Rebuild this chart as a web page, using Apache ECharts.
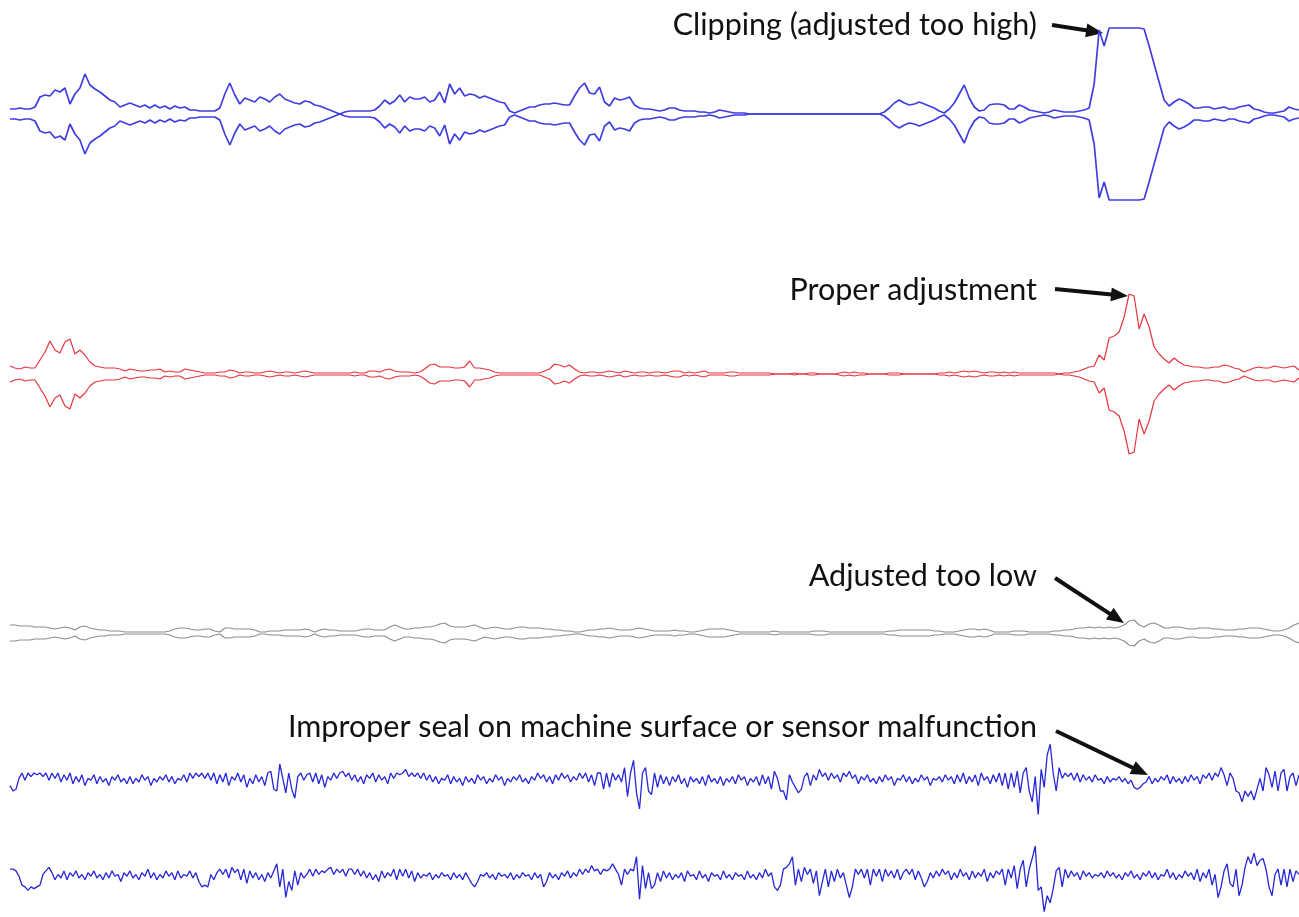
<!DOCTYPE html>
<html>
<head>
<meta charset="utf-8">
<script src="https://cdn.jsdelivr.net/npm/echarts@6/dist/echarts.min.js"></script>
<style>
  html, body { margin: 0; padding: 0; background: #fff; }
  #chart { width: 1299px; height: 917px; }
</style>
</head>
<body>
<div id="chart"></div>
<script>
// envelope amplitudes (half width of the trace), 259 samples each
const clipAmp = [
  5,5,6,5,5,7,17,19,18,24, 22,26,10,20,26,40,29,25,22,18,
  14,12,7,9,11,9,7,9,6,9, 6,8,5,8,6,7,4,4,3,3,
  3,3,6,20,31,19,10,16,14,12, 17,15,12,17,20,15,13,11,10,13,
  12,9,8,6,4,2,0,2,3,3, 3,3,3,4,8,14,10,13,19,12,
  17,15,15,17,12,14,22,11,30,20, 26,18,20,19,16,18,16,14,12,11,
  3,1,3,5,7,7,9,10,10,11, 10,9,9,18,26,31,21,20,27,12,
  8,16,14,15,17,9,6,5,5,4, 3,4,6,6,4,3,3,3,2,2,
  1,2,4,3,2,1,1,1,0,0, 0,0,0,0,0,0,0,0,0,0,
  0,0,0,0,0,0,0,0,0,0, 0,0,0,0,0,2,6,11,14,11,
  9,10,12,10,8,6,3,1,5,11, 20,29,16,7,3,4,9,10,10,9,
  5,5,9,7,4,3,2,1,2,4, 3,2,2,2,3,4,6,30,84,68,
  86,86,86,86,86,86,86,85,68,50, 32,14,8,12,15,13,10,6,6,7,
  7,5,6,7,5,5,7,8,9,5, 4,2,1,1,2,3,7,5,4
];
const properAmp = [
  8,6,5,7,6,6,14,22,33,24, 21,32,35,20,24,19,12,8,7,6,
  6,6,5,3,5,4,3,3,4,4, 5,2,3,2,2,5,4,3,2,1,
  1,1,2,2,4,3,1,2,2,1, 1,2,3,2,1,2,2,1,2,3,
  2,1,1,1,1,1,1,1,1,2, 1,1,3,3,2,4,5,3,2,2,
  2,1,2,5,9,10,7,7,7,6, 6,7,13,6,6,5,4,2,1,1,
  1,1,1,1,1,1,1,3,5,10, 9,7,9,5,2,1,2,2,1,2,
  3,2,1,3,2,1,2,2,1,2, 2,1,2,3,3,1,2,1,2,3,
  1,1,1,1,2,2,1,1,1,1, 1,1,1,0,0,0,0,1,0,0,
  1,1,0,0,0,0,1,2,1,2, 1,1,0,0,0,0,1,1,1,0,
  0,0,0,0,0,0,1,1,2,1, 2,3,2,3,2,1,2,2,1,2,
  1,2,1,1,1,1,1,1,1,1, 0,1,1,2,3,5,7,8,19,14,
  36,38,42,57,80,78,45,60,47,27, 20,15,11,16,12,9,8,7,7,6,
  6,7,7,9,8,6,5,2,4,6, 7,6,6,8,7,6,7,8,4
];
const lowAmp = [
  8,8,7,7,7,6,6,6,5,4, 5,6,5,3,6,7,5,4,3,3,
  2,2,2,1,1,1,1,1,1,1, 1,1,2,4,5,5,4,3,3,4,
  4,2,1,5,5,4,4,4,4,3, 1,1,2,2,2,3,3,3,3,4,
  3,1,3,4,3,3,2,2,2,2, 3,4,4,3,3,3,6,8,6,4,
  4,5,5,6,6,7,9,10,7,6, 6,6,7,8,6,4,5,6,5,4,
  4,5,6,6,5,5,5,4,4,3, 3,2,2,1,1,2,3,3,4,4,
  5,4,3,3,3,4,5,4,3,2, 2,2,2,3,2,2,1,1,2,3,
  4,4,4,4,3,2,1,1,1,1, 1,1,1,2,1,1,1,1,1,1,
  1,2,2,2,1,1,1,1,1,1, 1,1,1,1,1,1,2,2,3,3,
  3,3,3,3,3,2,2,1,1,1, 2,3,4,4,3,4,3,1,1,1,
  1,2,2,2,1,1,1,1,1,2, 2,3,3,4,5,5,6,5,6,5,
  6,5,6,8,12,13,8,6,9,10, 8,5,5,6,6,5,4,4,5,5,
  5,4,4,3,3,3,4,4,5,5, 5,4,3,2,2,3,5,8,10
];
// raw signals of the two sensor channels, 431 samples each
const sealSignal = [
  -2,-5,-4,2,5,1,5,3,5,4, 5,3,5,1,5,2,5,0,4,1,
  5,-1,3,0,4,-2,2,1,4,-1, 3,0,2,-2,3,1,4,0,2,-1,
  3,-1,2,0,4,1,3,-2,2,0, 3,1,4,0,3,-1,2,1,4,0,
  5,2,5,3,5,2,5,1,5,-1, 4,0,5,-2,3,1,5,0,4,-3,
  2,-1,4,0,3,-2,5,6,-4,-5, 10,2,-6,5,-4,-9,3,5,1,4,
  5,0,5,-1,4,-3,3,1,5,2, 5,6,3,5,1,4,0,3,-1,4,
  2,5,0,4,1,3,-1,5,2,5, 4,5,7,3,5,3,5,2,5,1,
  4,0,3,-1,2,1,4,-1,3,0, 2,-2,3,0,2,-1,4,1,3,-1,
  2,0,4,1,3,-2,2,0,3,1, 4,0,2,-1,3,1,5,2,4,0,
  3,-1,4,1,5,2,4,0,3,1, 5,2,5,0,4,-2,5,5,-4,5,
  -3,5,1,4,0,8,-8,5,12,-6, -15,5,8,-5,-7,5,-3,4,-1,3,
  -2,3,0,4,-1,2,-3,3,0,2, -1,3,-2,4,0,2,-1,3,-2,2,
  0,3,-1,4,1,3,-2,2,0,3, -2,4,-1,3,-4,6,2,-5,-5,-10,
  4,0,-3,-6,-4,3,5,-2,4,1, 7,3,5,1,5,2,4,0,5,3,
  6,2,4,-1,3,1,4,0,2,-1, 3,0,4,1,3,-2,2,1,4,0,
  3,-1,2,0,4,1,3,-2,2,1, 3,0,4,1,3,-1,4,0,5,-1,
  3,0,4,-2,5,1,3,-1,4,0, 5,-2,5,-4,5,-3,6,-6,5,8,
  -5,-11,3,-18,7,-3,15,21,5,-5, 8,2,5,3,5,1,5,0,4,1,
  3,0,4,1,2,-1,3,0,2,1, 3,0,2,-1,1,-3,-4,-3,-1,0,
  3,-1,2,0,3,1,4,-1,3,0, 2,-1,3,0,4,1,3,-1,4,2,
  5,1,5,3,8,4,-2,5,2,-5, -6,-11,-5,-8,-5,-10,-4,2,-5,8,
  4,-3,6,-5,5,7,-5,3,5,-2, 4
];
const sensorSignal = [
  5,5,4,1,-4,-5,-7,-5,-6,-5, -4,2,4,6,3,-1,2,0,4,-1,
  3,1,4,0,2,-1,3,1,4,0, 2,-1,3,0,4,1,2,-2,3,1,
  4,0,2,-1,3,1,5,0,3,-1, 2,0,4,1,3,-1,4,0,2,1,
  4,0,3,-2,-5,-4,-5,2,-1,3, 5,2,5,0,6,3,5,-1,5,-3,
  4,0,3,-1,2,-2,3,0,4,8, -5,5,-11,-2,-7,4,-4,3,0,2,
  5,1,5,2,4,3,5,6,2,5, 3,5,1,5,5,2,5,1,4,0,
  3,-1,2,-2,4,0,3,1,5,-1, 5,1,5,0,4,-2,3,0,2,1,
  3,-1,2,0,3,1,2,-1,3,0, 2,-1,3,0,-3,-5,-2,2,1,3,
  0,2,-1,3,1,2,0,3,-1,2, 0,3,1,2,-1,3,0,2,-5,-2,
  3,0,2,-1,3,1,4,0,3,1, 5,2,5,3,7,4,5,2,5,4,
  5,8,5,2,-4,5,2,5,4,12, -12,7,-6,3,-6,-4,3,-2,4,0,
  3,-1,2,0,3,-2,4,1,2,-1, 4,0,2,-2,3,1,2,-1,4,0,
  2,-1,3,1,2,-1,4,0,2,-1, 3,0,5,1,3,-5,-7,-4,5,6,
  8,12,-4,5,-2,6,2,5,-3,4, -10,-2,5,-5,4,-2,5,0,3,-4,
  -11,-5,5,2,5,0,5,-4,5,1, 5,-2,5,1,4,0,5,-1,3,5,
  2,5,-1,4,0,-5,-2,3,0,4, 1,5,2,4,-1,3,0,5,1,3,
  -1,4,0,3,1,5,-2,3,0,4, 2,5,-4,5,0,7,-6,5,10,-5,
  5,11,18,-7,-5,-19,-10,-14,-6,4, 6,-5,5,0,4,1,3,-1,4,1,
  3,0,2,1,3,0,4,1,3,0, 2,-1,3,1,4,0,2,-1,3,1,
  4,0,3,-1,2,1,5,0,3,-1, 2,0,4,1,3,-1,5,-2,3,0,
  5,-4,2,-11,-5,4,8,-3,-5,5, -10,-4,6,12,8,14,7,10,11,5,
  -5,-10,2,5,-4,5,-5,5,-2,4, 2
];

const labels = [
  'Clipping (adjusted too high)',
  'Proper adjustment',
  'Adjusted too low',
  'Improper seal on machine surface or sensor malfunction'
];

const chart = echarts.init(document.getElementById('chart'));

// one strip per trace: top, height and half range of its y axis
const panels = [
  { top: 24, height: 180, range: 90, n: clipAmp.length },
  { top: 284, height: 180, range: 90, n: properAmp.length },
  { top: 593, height: 80, range: 40, n: lowAmp.length },
  { top: 737, height: 90, range: 25, n: sealSignal.length },
  { top: 839, height: 80, range: 22, n: sensorSignal.length }
];

const grids = panels.map(p => ({ left: 10, right: -1, top: p.top, height: p.height }));
const xAxes = panels.map((p, i) => ({ type: 'value', gridIndex: i, min: 0, max: p.n - 1, show: false }));
const yAxes = panels.map((p, i) => ({ type: 'value', gridIndex: i, min: -p.range, max: p.range, show: false }));

function trace(values, idx, color, width, sign) {
    return {
        type: 'line',
        xAxisIndex: idx,
        yAxisIndex: idx,
        data: values.map((v, i) => [i, sign * v]),
        showSymbol: false,
        lineStyle: { color: color, width: width },
        silent: true
    };
}

const series = [
    trace(clipAmp, 0, '#3e3ee2', 1.7, 1),
    trace(clipAmp, 0, '#3e3ee2', 1.7, -1),
    trace(properAmp, 1, '#e8343f', 1.2, 1),
    trace(properAmp, 1, '#e8343f', 1.2, -1),
    trace(lowAmp, 2, '#8e8e8e', 1.2, 1),
    trace(lowAmp, 2, '#8e8e8e', 1.2, -1),
    trace(sealSignal, 3, '#2626d8', 1.3, 1),
    trace(sensorSignal, 4, '#2626d8', 1.3, 1)
];

// annotation arrows: tail -> tip
function arrow(x1, y1, x2, y2) {
    const a = Math.atan2(y2 - y1, x2 - x1);
    const len = 17, half = 7;
    const bx = x2 - len * Math.cos(a), by = y2 - len * Math.sin(a);
    const nx = -Math.sin(a), ny = Math.cos(a);
    return [
        { type: 'line', shape: { x1: x1, y1: y1, x2: bx + 3 * Math.cos(a), y2: by + 3 * Math.sin(a) },
          style: { stroke: '#111', lineWidth: 4 } },
        { type: 'polygon', shape: { points: [[x2, y2], [bx + half * nx, by + half * ny], [bx - half * nx, by - half * ny]] },
          style: { fill: '#111' } }
    ];
}

function label(text, y) {
    return {
        type: 'text', x: 1037, y: y,
        style: { text: text, font: '30.5px Lato', fill: '#111', align: 'right', verticalAlign: 'middle' }
    };
}

chart.setOption({
    backgroundColor: '#fff',
    animation: false,
    grid: grids,
    xAxis: xAxes,
    yAxis: yAxes,
    series: series,
    graphic: [
        label(labels[0], 25),
        label(labels[1], 290),
        label(labels[2], 576),
        label(labels[3], 727),
        ...arrow(1052, 25, 1103, 33),
        ...arrow(1055, 289, 1128, 296),
        ...arrow(1055, 578, 1124, 623),
        ...arrow(1056, 731, 1148, 775)
    ]
});
</script>
</body>
</html>
